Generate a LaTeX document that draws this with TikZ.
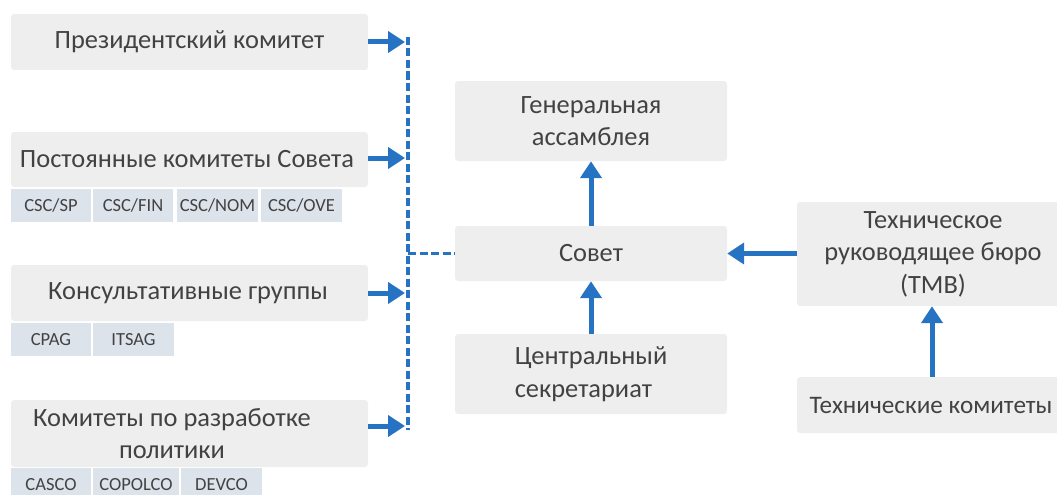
\documentclass[tikz,border=0pt]{standalone}
\usepackage{fontspec}
\setmainfont{Carlito}
\usetikzlibrary{arrows.meta}
\definecolor{arrblue}{RGB}{38,115,196}
\definecolor{boxgray}{RGB}{238,238,238}
\definecolor{subgray}{RGB}{221,227,234}
\definecolor{txtgray}{RGB}{66,66,66}
\tikzset{
  mainbox/.style={fill=boxgray, rounded corners=3pt, inner sep=0pt, text=txtgray,
    font=\fontsize{26.4}{32.5}\selectfont, align=center},
  subbox/.style={fill=subgray, inner sep=0pt, minimum height=33pt, text=txtgray,
    font=\fontsize{18.5}{22}\selectfont},
  txt/.style={text=txtgray, font=\fontsize{26.4}{32.5}\selectfont, inner sep=0pt},
  arr/.style={draw=arrblue, line width=5pt, -{Triangle[length=17pt,width=21pt]}},
  bus/.style={draw=arrblue, line width=3.3pt, dash pattern=on 8pt off 3.5pt}
}
\begin{document}
\begin{tikzpicture}[x=1pt,y=-1pt]
\useasboundingbox (0,0) rectangle (1057,495);
\clip (0,0) rectangle (1057,495);
% left column
\node[mainbox, minimum width=357pt, minimum height=56pt] (b1) at (189.5,42) {};
\node[txt] (t1) at (189.5,42) {Президентский комитет};
\node[mainbox, minimum width=357pt, minimum height=55pt] (b2) at (189.5,159.5) {};
\node[txt] (t2) at (187,159.5) {Постоянные комитеты Совета};
\node[subbox, minimum width=80pt] (s21) at (51,205.5) {CSC/SP};
\node[subbox, minimum width=80pt] (s22) at (133,205.5) {CSC/FIN};
\node[subbox, minimum width=81pt] (s23) at (217.5,205.5) {CSC/NOM};
\node[subbox, minimum width=81pt] (s24) at (301.5,205.5) {CSC/OVE};
\node[mainbox, minimum width=357pt, minimum height=56pt] (b3) at (189.5,293) {};
\node[txt] (t3) at (188,293) {Консультативные группы};
\node[subbox, minimum width=80pt] (s31) at (51,339.5) {CPAG};
\node[subbox, minimum width=81pt] (s32) at (133.5,339.5) {ITSAG};
\node[mainbox, minimum width=357pt, minimum height=67pt] (b4) at (189.5,433.5) {};
\node[txt, align=center] (t4) at (172,433.5) {Комитеты по разработке\\политики};
\node[subbox, minimum width=80pt] (s41) at (51,484.5) {CASCO};
\node[subbox, minimum width=86pt] (s42) at (136,484.5) {COPOLCO};
\node[subbox, minimum width=81pt] (s43) at (221.5,484.5) {DEVCO};
% middle column
\node[mainbox, minimum width=272pt, minimum height=80pt] (ga) at (591,121) {Генеральная\\ассамблея};
\node[mainbox, minimum width=272pt, minimum height=55pt] (sovet) at (591,253.5) {Совет};
\node[mainbox, minimum width=272pt, minimum height=80pt] (cs) at (591,374) {};
\node[txt, align=left] (cst) at (591,374) {Центральный\\секретариат};
% right column
\node[mainbox, minimum width=272pt, minimum height=104pt] (tmb) at (933,254) {Техническое\\руководящее бюро\\(TMB)};
\node[mainbox, minimum width=272pt, minimum height=56pt] (tk) at (933,405) {};
\node[txt, font=\fontsize{25.2}{32.5}\selectfont] (tkt) at (931,405) {Технические комитеты};
% bus
\coordinate (bt) at (408,37);
\coordinate (bb) at (408,430);
\coordinate (bm) at (408,253.5);
\coordinate (a1) at (405,42);
\coordinate (a2) at (405,158);
\coordinate (a3) at (405,293);
\coordinate (a4) at (405,426);
\draw[bus] (bt) -- (bb);
\draw[bus] (bm) -- (sovet.west);
\draw[arr] (b1.east) -- (a1);
\draw[arr] (b2.east |- a2) -- (a2);
\draw[arr] (b3.east) -- (a3);
\draw[arr] (b4.east |- a4) -- (a4);
\draw[arr] (sovet.north) -- (ga.south);
\draw[arr] (cs.north) -- (sovet.south);
\draw[arr] (tmb.west |- sovet.east) -- (sovet.east);
\draw[arr] ([xshift=-1pt]tk.north) -- ([xshift=-1pt]tmb.south);
\end{tikzpicture}
\end{document}
